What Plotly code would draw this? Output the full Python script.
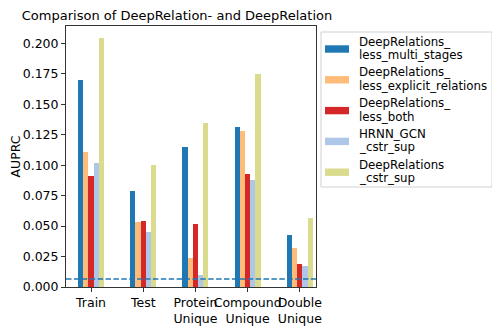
import plotly.graph_objects as go

# Data
categories = ["Train", "Test", "Protein<br>Unique", "Compound<br>Unique", "Double<br>Unique"]
series_names = [
    "DeepRelations_<br>less_multi_stages",
    "DeepRelations_<br>less_explicit_relations",
    "DeepRelations_<br>less_both",
    "HRNN_GCN<br>_cstr_sup",
    "DeepRelations<br>_cstr_sup",
]
less_multi_stages = [0.1695, 0.079, 0.115, 0.131, 0.043]
less_explicit_relations = [0.111, 0.053, 0.024, 0.128, 0.032]
less_both = [0.0915, 0.054, 0.052, 0.093, 0.019]
hrnn_gcn_cstr_sup = [0.102, 0.045, 0.010, 0.088, 0.017]
deeprelations_cstr_sup = [0.204, 0.100, 0.135, 0.175, 0.057]
baseline = 0.0066

series_values = [less_multi_stages, less_explicit_relations, less_both,
                 hrnn_gcn_cstr_sup, deeprelations_cstr_sup]
colors = ["#1f77b4", "#ffbb78", "#d62728", "#aec7e8", "#dbdb8d"]

bar_w = 0.1
font_family = "DejaVu Sans, sans-serif"

# the page body has an 8px margin, so the figure is sized to fill the rest
OFF = 8
W, H = 500 - OFF, 328 - OFF
# plot area in window pixels
L, R, T, B = 66, 316, 26, 287
def px(x):
    return (x - L) / (R - L)
def py(y):
    return (B - y) / (B - T)

fig = go.Figure()
for k, (name, vals) in enumerate(zip(series_names, series_values)):
    xs = [i + (k - 2) * bar_w for i in range(len(categories))]
    fig.add_trace(go.Bar(
        x=xs, y=vals, name=name.replace("<br>", ""), width=bar_w, showlegend=False,
        marker=dict(color=colors[k], line=dict(width=0)),
    ))

# random-guess baseline (dashed)
fig.add_shape(type="line", xref="paper", x0=0, x1=1, yref="y", y0=baseline, y1=baseline,
              line=dict(color="#1f77b4", width=1.6, dash="5.5px,2.4px"))

# legend drawn like matplotlib's: framed box, wide patches, two-line labels
fig.add_shape(type="rect", xref="paper", yref="paper",
              x0=px(321), x1=px(492), y0=py(32), y1=py(187),
              line=dict(color="#d0d0d0", width=1), fillcolor="white", layer="above")
for k, name in enumerate(series_names):
    cy = 49.0 + k * 30.8
    fig.add_shape(type="rect", xref="paper", yref="paper",
                  x0=px(325), x1=px(349), y0=py(cy + 3.7), y1=py(cy - 3.7),
                  line=dict(width=0), fillcolor=colors[k], layer="above")
    for j, line in enumerate(name.split("<br>")):
        fig.add_annotation(xref="paper", yref="paper", x=px(357),
                           y=py(cy - 7.3 + j * 13.3),
                           xanchor="left", yanchor="middle", text=line, showarrow=False,
                           font=dict(size=11.8, color="black"))

fig.update_layout(
    width=W, height=H,
    margin=dict(l=L - OFF, r=500 - R, t=T - OFF, b=328 - B),
    paper_bgcolor="white", plot_bgcolor="white",
    font=dict(family=font_family, size=12, color="black"),
    showlegend=False,
    bargap=0,
    title=dict(text="Comparison of DeepRelation- and DeepRelation",
               x=(177 - OFF) / W, xanchor="center", y=1 - (15 - OFF) / H, yanchor="middle",
               font=dict(size=13, color="black")),
    xaxis=dict(
        range=[-0.48, 4.31],
        tickmode="array", tickvals=list(range(len(categories))), ticktext=categories,
        tickangle=0, automargin=False,
        ticks="outside", ticklen=4, tickcolor="#333",
        showline=True, linecolor="#333", linewidth=1, mirror=True,
        showgrid=False, zeroline=False,
        tickfont=dict(size=12.5),
    ),
    yaxis=dict(
        range=[0, 0.2142],
        tickmode="linear", tick0=0, dtick=0.025, tickformat=".3f",
        ticks="outside", ticklen=4, tickcolor="#333",
        showline=True, linecolor="#333", linewidth=1, mirror=True,
        showgrid=False, zeroline=False, automargin=False,
        tickfont=dict(size=12.5),
        title=dict(text="AUPRC", font=dict(size=12.5), standoff=3),
    ),
)

fig.write_html("out.html")
